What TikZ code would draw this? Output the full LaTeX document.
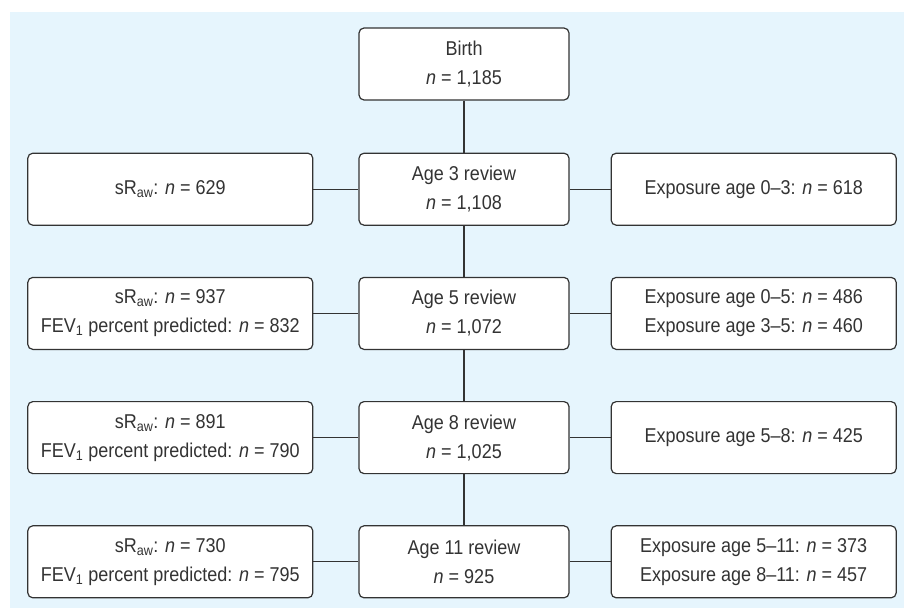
\documentclass[tikz,border=0pt]{standalone}
\usepackage{fontspec}
\setmainfont[FakeStretch=0.9]{Liberation Sans}
\usetikzlibrary{positioning}
\definecolor{bgblue}{HTML}{E6F5FD}
\definecolor{linegray}{HTML}{333333}
\tikzset{
  flowbox/.style={draw=linegray, fill=white, line width=1.2pt, rounded corners=5pt,
    minimum height=72pt, align=center, inner sep=2pt,
    font=\fontsize{20}{29}\selectfont, text=linegray},
  midbox/.style={flowbox, minimum width=210pt},
  sidebox/.style={flowbox, minimum width=285pt},
  link/.style={draw=linegray, line width=1.2pt}
}
\newcommand{\sraw}{sR\textsubscript{aw}}
\newcommand{\fevp}{FEV\textsubscript{1} percent predicted}
\begin{document}
\begin{tikzpicture}
  \useasboundingbox (0,0) rectangle (904pt,-608pt);
  \fill[bgblue] (10pt,-12pt) rectangle (904pt,-608pt);
  % main column
  \node[midbox] (birth) at (464pt,-64pt) {Birth\\\textit{n} = 1,185};
  \node[midbox, below=52pt of birth] (age3) {Age 3 review\\\textit{n} = 1,108};
  \node[midbox, below=51pt of age3] (age5) {Age 5 review\\\textit{n} = 1,072};
  \node[midbox, below=51pt of age5] (age8) {Age 8 review\\\textit{n} = 1,025};
  \node[midbox, below=51pt of age8] (age11) {Age 11 review\\\textit{n} = 925};
  % lung function (left)
  \node[sidebox, left=45pt of age3] (lung3) {\sraw: \textit{n} = 629};
  \node[sidebox, left=45pt of age5] (lung5) {\sraw: \textit{n} = 937\\\fevp: \textit{n} = 832};
  \node[sidebox, left=45pt of age8] (lung8) {\sraw: \textit{n} = 891\\\fevp: \textit{n} = 790};
  \node[sidebox, left=45pt of age11] (lung11) {\sraw: \textit{n} = 730\\\fevp: \textit{n} = 795};
  % exposure (right)
  \node[sidebox, right=41pt of age3] (exp3) {Exposure age 0--3: \textit{n} = 618};
  \node[sidebox, right=41pt of age5] (exp5) {Exposure age 0--5: \textit{n} = 486\\Exposure age 3--5: \textit{n} = 460};
  \node[sidebox, right=41pt of age8] (exp8) {Exposure age 5--8: \textit{n} = 425};
  \node[sidebox, right=41pt of age11] (exp11) {Exposure age 5--11: \textit{n} = 373\\Exposure age 8--11: \textit{n} = 457};
  % connectors
  \draw[link] (birth) -- (age3) -- (age5) -- (age8) -- (age11);
  \foreach \r in {3,5,8,11}
    \draw[link] (lung\r) -- (age\r) -- (exp\r);
\end{tikzpicture}
\end{document}
